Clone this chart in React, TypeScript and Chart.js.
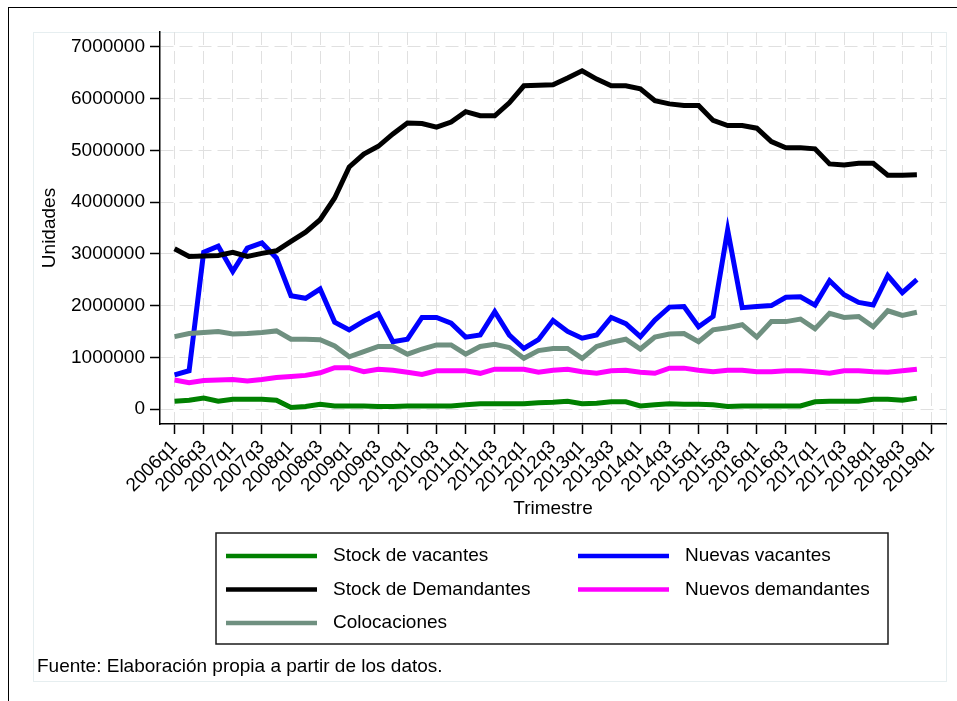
import { useEffect, useRef } from 'react';
import { Chart, registerables } from 'chart.js';

Chart.register(...registerables);

// Trimestres (el último, 2019q1, solo sirve de marca del eje)
const periods = [
	'2006q1', '2006q2', '2006q3', '2006q4', '2007q1', '2007q2', '2007q3', '2007q4',
	'2008q1', '2008q2', '2008q3', '2008q4', '2009q1', '2009q2', '2009q3', '2009q4',
	'2010q1', '2010q2', '2010q3', '2010q4', '2011q1', '2011q2', '2011q3', '2011q4',
	'2012q1', '2012q2', '2012q3', '2012q4', '2013q1', '2013q2', '2013q3', '2013q4',
	'2014q1', '2014q2', '2014q3', '2014q4', '2015q1', '2015q2', '2015q3', '2015q4',
	'2016q1', '2016q2', '2016q3', '2016q4', '2017q1', '2017q2', '2017q3', '2017q4',
	'2018q1', '2018q2', '2018q3', '2018q4', '2019q1',
];

const xTickLabels = [
	'2006q1', '2006q3', '2007q1', '2007q3', '2008q1', '2008q3', '2009q1', '2009q3',
	'2010q1', '2010q3', '2011q1', '2011q3', '2012q1', '2012q3', '2013q1', '2013q3',
	'2014q1', '2014q3', '2015q1', '2015q3', '2016q1', '2016q3', '2017q1', '2017q3',
	'2018q1', '2018q3', '2019q1',
];

const yTickValues = [0, 1000000, 2000000, 3000000, 4000000, 5000000, 6000000, 7000000];

// Series en millones de unidades
const stockVacantes = [
	0.15, 0.17, 0.21, 0.15, 0.19, 0.19, 0.19, 0.17, 0.03, 0.05, 0.09, 0.06, 0.06,
	0.06, 0.05, 0.05, 0.06, 0.06, 0.06, 0.06, 0.08, 0.1, 0.1, 0.1, 0.1, 0.12,
	0.13, 0.15, 0.1, 0.11, 0.14, 0.14, 0.06, 0.08, 0.1, 0.09, 0.09, 0.08, 0.05,
	0.06, 0.06, 0.06, 0.06, 0.06, 0.14, 0.15, 0.15, 0.15, 0.19, 0.19, 0.17, 0.21,
];

const nuevasVacantes = [
	0.66, 0.74, 3.03, 3.15, 2.66, 3.11, 3.21, 2.92, 2.19, 2.14, 2.32, 1.68, 1.53,
	1.7, 1.84, 1.3, 1.35, 1.77, 1.77, 1.66, 1.39, 1.43, 1.88, 1.43, 1.17, 1.34,
	1.71, 1.5, 1.37, 1.43, 1.77, 1.65, 1.4, 1.72, 1.97, 1.98, 1.59, 1.79, 3.46,
	1.96, 1.98, 2.0, 2.16, 2.17, 2.01, 2.48, 2.21, 2.06, 2.01, 2.58, 2.25, 2.5,
];

const stockDemandantes = [
	3.1, 2.95, 2.96, 2.97, 3.03, 2.95, 3.01, 3.06, 3.24, 3.42, 3.66, 4.08, 4.68,
	4.93, 5.08, 5.32, 5.53, 5.52, 5.45, 5.55, 5.75, 5.67, 5.67, 5.92, 6.25, 6.26,
	6.27, 6.4, 6.54, 6.38, 6.25, 6.25, 6.19, 5.96, 5.9, 5.87, 5.87, 5.58, 5.48,
	5.48, 5.43, 5.17, 5.05, 5.05, 5.03, 4.74, 4.72, 4.75, 4.75, 4.52, 4.52, 4.53,
];

const nuevosDemandantes = [
	0.56, 0.51, 0.55, 0.56, 0.57, 0.54, 0.57, 0.61, 0.63, 0.65, 0.7, 0.8, 0.8,
	0.72, 0.77, 0.75, 0.71, 0.67, 0.74, 0.74, 0.74, 0.69, 0.77, 0.77, 0.77, 0.71,
	0.75, 0.77, 0.72, 0.69, 0.74, 0.75, 0.71, 0.69, 0.79, 0.79, 0.75, 0.72, 0.75,
	0.75, 0.72, 0.72, 0.74, 0.74, 0.72, 0.69, 0.74, 0.74, 0.72, 0.71, 0.74, 0.77,
];

const colocaciones = [
	1.4, 1.46, 1.48, 1.5, 1.45, 1.46, 1.48, 1.51, 1.35, 1.35, 1.34, 1.22, 1.01,
	1.11, 1.21, 1.21, 1.06, 1.16, 1.24, 1.24, 1.06, 1.21, 1.25, 1.19, 0.98, 1.13,
	1.17, 1.17, 0.98, 1.21, 1.29, 1.35, 1.16, 1.39, 1.45, 1.46, 1.3, 1.53, 1.57,
	1.63, 1.39, 1.69, 1.69, 1.74, 1.55, 1.85, 1.77, 1.79, 1.59, 1.9, 1.81, 1.87,
];

const FONT = '"Liberation Sans", Arial, Helvetica, sans-serif';

const toPoints = (values: number[]) =>
	values.map((v, i) => ({ x: i, y: v * 1000000 }));

// Leyenda en recuadro de dos columnas y nota al pie, al estilo de Stata
const stataLegend = {
	id: 'stataLegend',
	afterDraw(chart: Chart) {
		const ctx = chart.ctx;
		ctx.save();
		ctx.strokeStyle = '#1a1a1a';
		ctx.lineWidth = 1.5;
		ctx.strokeRect(216, 533, 672, 111);

		ctx.font = `19px ${FONT}`;
		ctx.textBaseline = 'middle';
		ctx.fillStyle = '#000';
		chart.data.datasets.forEach((ds: any, i: number) => {
			const col = i % 2;
			const row = Math.floor(i / 2);
			const x0 = 226 + col * 352;
			const y = 556 + row * 33.5;
			ctx.strokeStyle = ds.borderColor;
			ctx.lineWidth = 4.5;
			ctx.beginPath();
			ctx.moveTo(x0, y);
			ctx.lineTo(x0 + 91, y);
			ctx.stroke();
			ctx.fillText(ds.label, x0 + 107, y);
		});

		ctx.fillText('Fuente: Elaboración propia a partir de los datos.', 37, 667);
		ctx.restore();
	},
};

function MercadoLaboralChart() {
	const chartRef = useRef<HTMLCanvasElement | null>(null);

	useEffect(() => {
		if (!chartRef.current) return;

		const existing = Chart.getChart(chartRef.current);
		if (existing) existing.destroy();

		const series = [
			{ label: 'Stock de vacantes', values: stockVacantes, color: '#008000' },
			{ label: 'Nuevas vacantes', values: nuevasVacantes, color: '#0000ff' },
			{ label: 'Stock de Demandantes', values: stockDemandantes, color: '#000000' },
			{ label: 'Nuevos demandantes', values: nuevosDemandantes, color: '#ff00ff' },
			{ label: 'Colocaciones', values: colocaciones, color: '#6f9080' },
		];

		const gridDash = [13, 6];

		const chart = new Chart(chartRef.current, {
			type: 'line',
			data: {
				datasets: series.map((s, i) => ({
					label: s.label,
					data: toPoints(s.values),
					borderColor: s.color,
					backgroundColor: s.color,
					borderWidth: 5,
					pointRadius: 0,
					tension: 0,
					fill: false,
					order: series.length - i,
				})),
			},
			options: {
				animation: false,
				responsive: true,
				maintainAspectRatio: false,
				layout: {
					padding: { left: 34, top: 32, right: 11, bottom: 177 },
				},
				plugins: {
					legend: { display: false },
					tooltip: { enabled: false },
				},
				scales: {
					x: {
						type: 'linear',
						min: -1,
						max: 53,
						afterBuildTicks: (scale: any) => {
							scale.ticks = xTickLabels.map((l) => ({ value: periods.indexOf(l) }));
						},
						afterFit: (scale: any) => {
							scale.height = 100;
						},
						ticks: {
							autoSkip: false,
							minRotation: 45,
							maxRotation: 45,
							padding: 2,
							color: '#000',
							font: { family: FONT, size: 19 },
							callback: (value: any) => periods[value as number],
						},
						grid: {
							color: '#e0e0e0',
							lineWidth: 1,
							tickColor: '#000',
							tickLength: 10,
							tickWidth: 1.5,
						},
						border: { display: true, color: '#000', width: 1.5, dash: gridDash },
						title: {
							display: true,
							text: 'Trimestre',
							color: '#000',
							font: { family: FONT, size: 19 },
							padding: { top: 0, bottom: 4 },
						},
					},
					y: {
						type: 'linear',
						min: -290000,
						max: 7290000,
						afterBuildTicks: (scale: any) => {
							scale.ticks = yTickValues.map((v) => ({ value: v }));
						},
						afterFit: (scale: any) => {
							scale.width = 126;
						},
						ticks: {
							padding: 5,
							color: '#000',
							font: { family: FONT, size: 19 },
							callback: (value: any) => String(value),
						},
						grid: {
							color: '#e0e0e0',
							lineWidth: 1,
							tickColor: '#000',
							tickLength: 10,
							tickWidth: 1.5,
						},
						border: { display: true, color: '#000', width: 1.5, dash: gridDash },
						title: {
							display: true,
							text: 'Unidades',
							color: '#000',
							font: { family: FONT, size: 19 },
						},
					},
				},
			},
			plugins: [stataLegend],
		});

		return () => {
			chart.destroy();
		};
	}, []);

	return (
		<div style={{ position: 'absolute', left: 0, top: 0, width: 957, height: 701, background: '#fff', overflow: 'hidden' }}>
			<div
				style={{
					position: 'absolute',
					left: 8,
					top: 7,
					width: 949,
					height: 694,
					borderLeft: '1.5px solid #000',
					borderTop: '1.5px solid #000',
					boxSizing: 'border-box',
				}}
			/>
			<div
				style={{
					position: 'absolute',
					left: 33,
					top: 32,
					width: 914,
					height: 650,
					border: '1px solid #e6eef0',
					boxSizing: 'border-box',
				}}
			/>
			<div style={{ position: 'absolute', left: 0, top: 0, width: 957, height: 701 }}>
				<canvas ref={chartRef}></canvas>
			</div>
		</div>
	);
}

export default function App() {
	return <MercadoLaboralChart />;
}
